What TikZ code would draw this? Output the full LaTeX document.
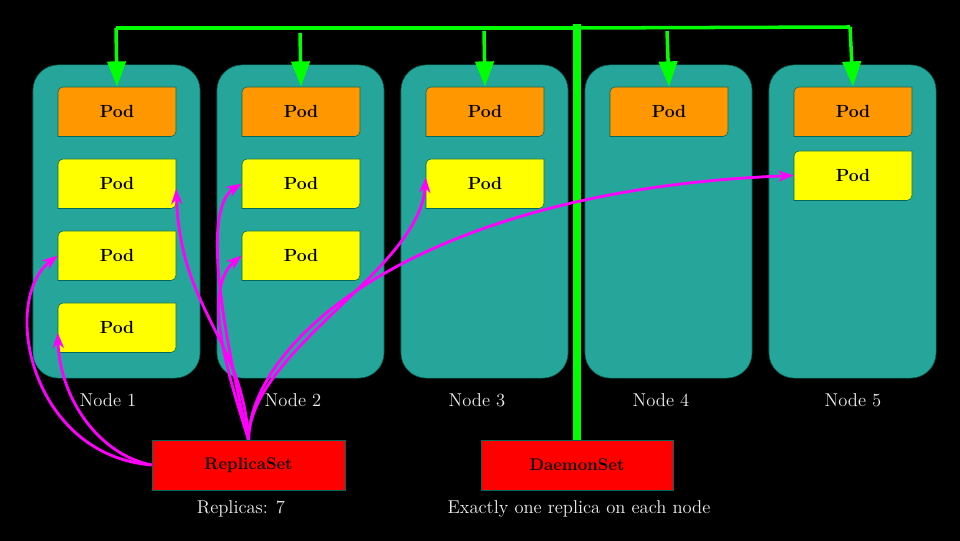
\documentclass[tikz,border=0pt]{standalone}
\usepackage{tikz}
\usetikzlibrary{arrows.meta}

\definecolor{nodeteal}{HTML}{26A69A}
\definecolor{darkteal}{HTML}{00695C}
\definecolor{podorange}{HTML}{FF9800}
\definecolor{podyellow}{HTML}{FFFF00}
\definecolor{setred}{HTML}{FF0000}
\definecolor{dsgreen}{HTML}{00FF00}
\definecolor{rsmagenta}{HTML}{FF00FF}
\definecolor{labelgray}{HTML}{EEEEEE}

\tikzset{
	knode/.style={rectangle, rounded corners=18pt, fill=nodeteal, draw=darkteal, thin,
		minimum width=4.175cm, minimum height=7.825cm},
	podtext/.style={inner sep=0pt, minimum width=2.95cm, minimum height=1.225cm,
		font=\bfseries\fontsize{12.5}{15}\selectfont},
	setbox/.style={rectangle, fill=setred, draw=darkteal, thin, minimum height=1.25cm,
		font=\bfseries\fontsize{12}{15}\selectfont},
	klabel/.style={text=labelgray, font=\fontsize{13.2}{16}\selectfont},
	dsline/.style={dsgreen, line width=2.5pt},
	dsarrow/.style={dsgreen, line width=2.5pt, -{Triangle[length=18pt, width=13pt]}},
	rsarrow/.style={rsmagenta, line width=2pt, -{Stealth[length=11pt, width=8pt, inset=3.5pt]}}
}

\newcommand{\podbox}[4]{%
	\filldraw[fill=#4, draw=darkteal, thin] (#2,#3) ++(59,24.5) -- ++(0,-44.5)
		arc[start angle=0, end angle=-90, radius=5] -- ++(-113,0) -- ++(0,44.5)
		arc[start angle=180, end angle=90, radius=5] -- cycle;
	\node[podtext] (#1) at (#2,#3) {Pod};
}

\begin{document}
\begin{tikzpicture}[x=0.025cm, y=0.025cm]
	\useasboundingbox (0,0) rectangle (960,540);
	\fill[black] (-5,-5) rectangle (965,545);

	\foreach \i in {1,...,5}
		\node[knode] (k\i) at (116.5+184*\i-184, 318.5) {};
	\foreach \i/\x in {1/108, 2/293, 3/477, 4/661, 5/853}
		\node[klabel] (l\i) at (\x, 140) {Node \i};

	\foreach \i in {1,...,5}{
		\podbox{d\i}{117+184*\i-184}{428.5}{podorange}
	}
	\podbox{r1}{117}{356.5}{podyellow}
	\podbox{r2}{117}{284.5}{podyellow}
	\podbox{r3}{117}{212.5}{podyellow}
	\podbox{r4}{301}{356.5}{podyellow}
	\podbox{r5}{301}{284.5}{podyellow}
	\podbox{r6}{485}{356.5}{podyellow}
	\podbox{r7}{853}{364.5}{podyellow}

	\node[setbox, minimum width=4.825cm] (rs) at (248.5, 75) {ReplicaSet};
	\node[setbox, minimum width=4.8cm] (ds) at (577, 75) {DaemonSet};
	\node[klabel] (rsl) at (241, 31) {Replicas: 7};
	\node[klabel] (dsl) at (579, 31) {Exactly one replica on each node};

	\coordinate (g1) at (116, 512);
	\coordinate (g2) at (300, 507);
	\coordinate (g3) at (484, 509);
	\coordinate (g4) at (667, 509);
	\coordinate (g5) at (850, 513);
	\coordinate (gt) at (577, 516);
	\draw[dsgreen, line width=5pt] (ds.north) -- (gt);
	\draw[dsline] (g1) -- (gt |- g1) -- (g5);
	\foreach \i in {1,...,5}
		\draw[dsarrow] (g\i) -- (d\i.north);

	\draw[rsarrow] (rs.north) .. controls (243,200) and (180,230) .. (r1.-5);
	\draw[rsarrow] (rs.north) .. controls (225,200) and (200,330) .. (r4.west);
	\draw[rsarrow] (rs.north) .. controls (230,160) and (200,250) .. (r5.west);
	\draw[rsarrow] (rs.north) .. controls (250,190) and (420,270) .. (r6.174);
	\draw[rsarrow] (rs.north) .. controls (250,200) and (420,350) .. (r7.west);
	\draw[rsarrow] (rs.west) .. controls (30,85) and (0,240) .. (r2.west);
	\draw[rsarrow] (rs.west) .. controls (100,85) and (60,140) .. (r3.185);
\end{tikzpicture}
\end{document}
